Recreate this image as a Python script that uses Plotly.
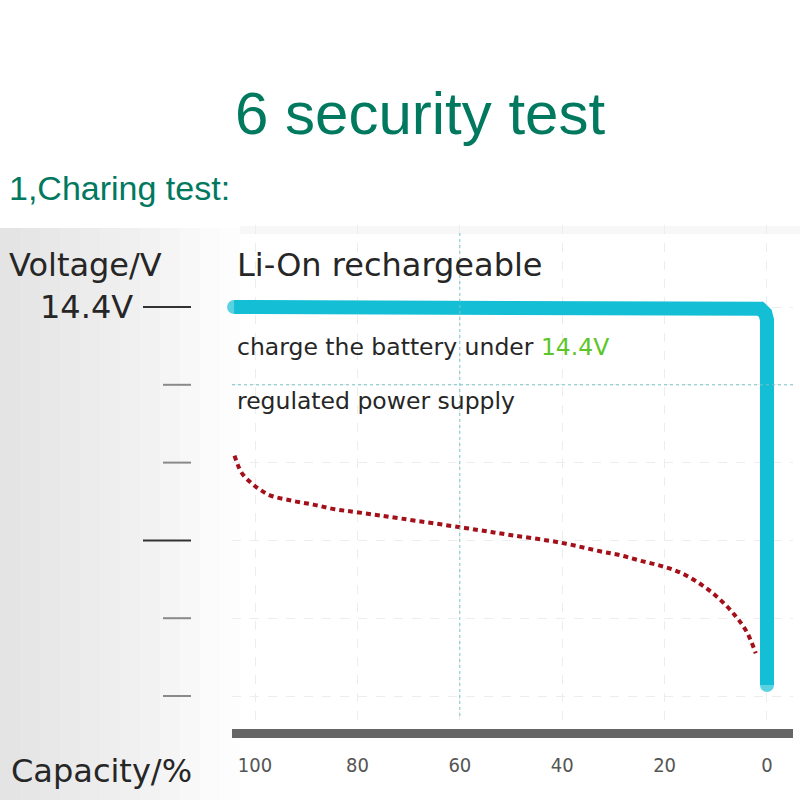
import plotly.graph_objects as go

# ---------------- data ----------------
capacity_ticks = [100, 80, 60, 40, 20, 0]
capacity_labels = ["100", "80", "60", "40", "20", "0"]
voltage_ticks = [9.4, 10.4, 11.4, 12.4, 13.4, 14.4]
voltage_labels = ["", "", "", "", "", "14.4V"]

# charging (regulated 14.4 V supply) line, with its rounded corner
charge_capacity = [104.1, 2.54, 1.27, 0.33, 0.0, 0.0]
charge_voltage = [14.4, 14.4, 14.378, 14.317, 14.233, 9.54]

# discharge curve (dotted red)
discharge_capacity = [104.0, 103.3, 102.3, 100.6, 99.0, 97.1, 92.8, 88.6, 84.4, 79.8,
                      71.4, 59.0, 50.2, 40.2, 32.6, 28.7, 24.8, 20.6, 16.7, 12.8,
                      9.5, 6.3, 4.0, 2.2]
discharge_voltage = [12.49, 12.36, 12.24, 12.13, 12.05, 11.98, 11.91, 11.86, 11.80, 11.76,
                     11.68, 11.56, 11.47, 11.37, 11.26, 11.21, 11.14, 11.07, 10.98, 10.83,
                     10.66, 10.44, 10.23, 9.95]

# ---------------- layout helpers ----------------
W, H = 800, 800
PL, PR, PT, PB = 232, 793, 225, 729


def fx(px):
    return (px - PL) / (PR - PL)


def fy(py):
    return (PB - py) / (PB - PT)


fig = go.Figure()

fig.add_trace(go.Scatter(
    x=discharge_capacity, y=discharge_voltage, mode="lines",
    line=dict(color="#a3101a", width=4, dash="5px,4px", shape="spline", smoothing=1),
    hoverinfo="skip", showlegend=False, cliponaxis=False))

fig.add_trace(go.Scatter(
    x=charge_capacity, y=charge_voltage, mode="lines+markers",
    line=dict(color="#14bfd5", width=14, shape="linear"),
    marker=dict(color="#14bfd5", size=[14, 0, 0, 0, 0, 14], line=dict(width=0)),
    hoverinfo="skip", showlegend=False, cliponaxis=False))

shapes = []
# soft grey background gradient on the left side
grad = ["#e4e4e4", "#e6e6e6", "#e8e8e8", "#eaeaea", "#ececec", "#eeeeee",
        "#f0f0f0", "#f2f2f2", "#f5f5f5", "#f8f8f8", "#fbfbfb", "#fdfdfd"]
step = 20
for i, c in enumerate(grad):
    shapes.append(dict(type="rect", xref="paper", yref="paper", layer="below",
                       x0=fx(i * step), x1=fx((i + 1) * step), y0=fy(H), y1=fy(228),
                       fillcolor=c, line=dict(width=0)))
shapes.append(dict(type="rect", xref="paper", yref="paper", layer="below",
                   x0=fx(240), x1=fx(W), y0=fy(234), y1=fy(226),
                   fillcolor="#f7f7f7", line=dict(width=0)))

# teal dotted guides
shapes.append(dict(type="line", xref="x", yref="paper", x0=60, x1=60,
                   y0=fy(716), y1=fy(230), line=dict(color="#78c4c8", width=1, dash="dot")))
shapes.append(dict(type="line", xref="paper", yref="y", x0=0, x1=1,
                   y0=voltage_ticks[4], y1=voltage_ticks[4],
                   line=dict(color="#78c4c8", width=1, dash="dot")))

# detached voltage tick marks
for v in voltage_ticks:
    major = v in (14.4, 11.4)
    shapes.append(dict(type="line", xref="paper", yref="y",
                       x0=fx(143 if major else 163), x1=fx(191), y0=v, y1=v,
                       line=dict(color="#333333" if major else "#8a8a8a", width=2)))

annotations = [
    dict(text="6 security test", x=fx(420), y=fy(114), xanchor="center", yanchor="middle",
         font=dict(family="Liberation Sans, Arial", size=60, color="#00795f")),
    dict(text="1,Charing test:", x=fx(7), y=fy(188), xanchor="left", yanchor="middle",
         font=dict(family="Liberation Sans, Arial", size=34, color="#00795f")),
    dict(text="Voltage/V", x=fx(7), y=fy(265), xanchor="left", yanchor="middle",
         font=dict(family="DejaVu Sans", size=32, color="#262626")),
    dict(text="Li-On rechargeable", x=fx(235), y=fy(265), xanchor="left", yanchor="middle",
         font=dict(family="DejaVu Sans", size=32, color="#262626")),
    dict(text='charge the battery under <span style="color:#5cc629">14.4V</span>',
         x=fx(235), y=fy(347), xanchor="left", yanchor="middle",
         font=dict(family="DejaVu Sans", size=23.5, color="#262626")),
    dict(text="regulated power supply", x=fx(235), y=fy(401), xanchor="left", yanchor="middle",
         font=dict(family="DejaVu Sans", size=23.5, color="#262626")),
    dict(text="Capacity/%", x=fx(9), y=fy(771), xanchor="left", yanchor="middle",
         font=dict(family="DejaVu Sans", size=32, color="#262626")),
]
for v, lab in zip(voltage_ticks, voltage_labels):
    if lab:
        annotations.append(dict(text=lab, x=fx(135), y=v, xref="paper", yref="y",
                                xanchor="right", yanchor="middle",
                                font=dict(family="DejaVu Sans", size=32, color="#262626")))
for a in annotations:
    a.setdefault("xref", "paper")
    a.setdefault("yref", "paper")
    a["showarrow"] = False

fig.update_layout(
    width=W, height=H,
    margin=dict(l=PL, r=W - PR, t=PT, b=H - PB, pad=0),
    paper_bgcolor="white", plot_bgcolor="rgba(0,0,0,0)",
    shapes=shapes, annotations=annotations, showlegend=False,
    xaxis=dict(range=[104.5, -5.08], tickvals=capacity_ticks, ticktext=capacity_labels,
               showgrid=True, gridcolor="#ededed", griddash="dash", gridwidth=1,
               zeroline=False, showline=True, linecolor="#666666", linewidth=9,
               ticks="", ticklabelstandoff=10,
               tickfont=dict(family="DejaVu Sans Condensed, DejaVu Sans", size=20, color="#555555")),
    yaxis=dict(range=[8.976, 15.454], tickvals=voltage_ticks, showticklabels=False,
               showgrid=True, gridcolor="#ededed", griddash="dash", gridwidth=1,
               zeroline=False, showline=False, ticks=""),
)

fig.write_html("out.html", config={"displayModeBar": False},
               post_script="document.body.style.margin='0';")
